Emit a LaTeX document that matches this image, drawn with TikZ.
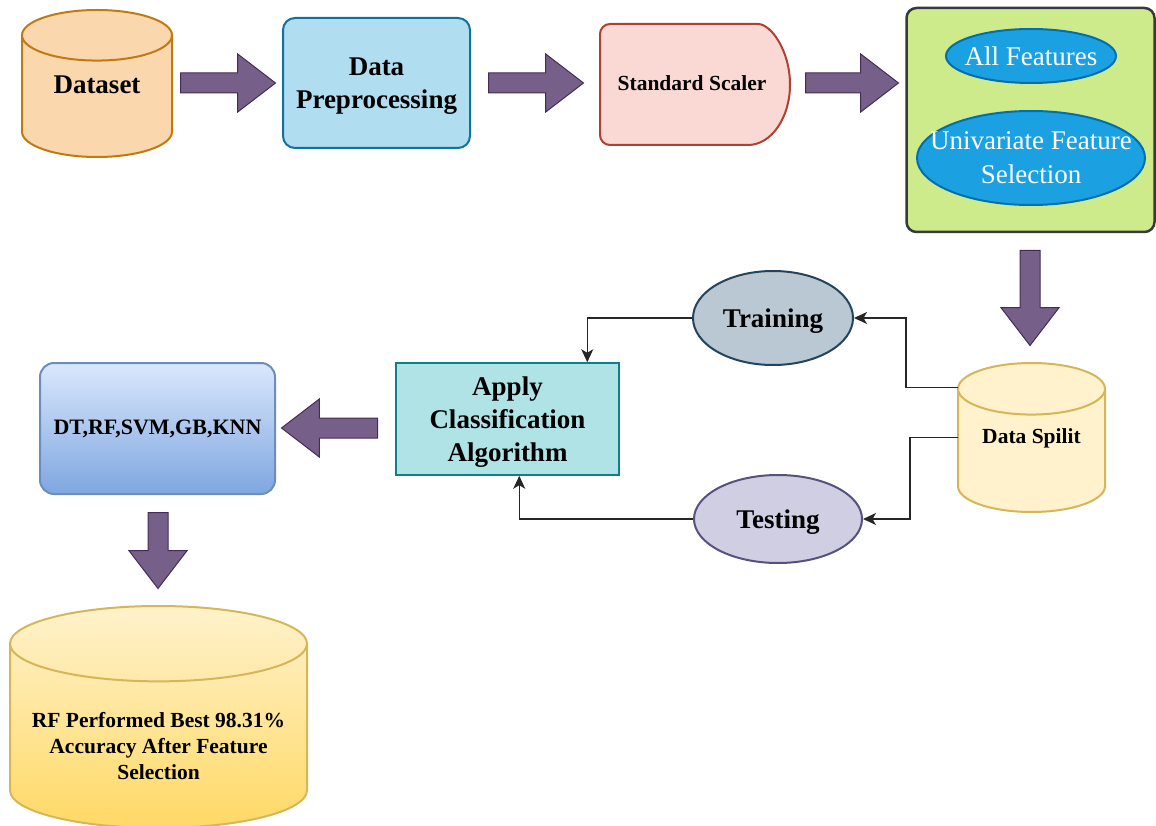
\documentclass[tikz,border=0pt]{standalone}
\usepackage{fontspec}
\setmainfont{Liberation Serif}
\usetikzlibrary{calc}
\usetikzlibrary{shapes.geometric,shapes.arrows,arrows.meta}

\definecolor{arrowfill}{HTML}{76608A}
\definecolor{arrowline}{HTML}{432D57}
\definecolor{datasetfill}{HTML}{FAD7AC}
\definecolor{datasetline}{HTML}{C07A14}
\definecolor{prepfill}{HTML}{B1DDF0}
\definecolor{prepline}{HTML}{10739E}
\definecolor{scalerfill}{HTML}{FAD9D5}
\definecolor{scalerline}{HTML}{AE4132}
\definecolor{featboxfill}{HTML}{CDEB8B}
\definecolor{featboxline}{HTML}{36393D}
\definecolor{featfill}{HTML}{1BA1E2}
\definecolor{featline}{HTML}{006EAF}
\definecolor{trainfill}{HTML}{BAC8D3}
\definecolor{trainline}{HTML}{23445D}
\definecolor{testfill}{HTML}{D0CEE2}
\definecolor{testline}{HTML}{56517E}
\definecolor{splitfill}{HTML}{FFF2CC}
\definecolor{splitline}{HTML}{D6B656}
\definecolor{applyfill}{HTML}{B0E3E6}
\definecolor{applyline}{HTML}{0E8088}
\definecolor{algotop}{HTML}{DAE8FC}
\definecolor{algobot}{HTML}{7EA6E0}
\definecolor{algoline}{HTML}{6C8EBF}
\definecolor{resultbot}{HTML}{FFD966}
\definecolor{linkcol}{HTML}{262626}

\newcommand{\flatline}[1]{\makebox[0pt]{#1}}

\tikzset{
    bigfont/.style={font=\fontsize{27}{33}\selectfont\bfseries},
    midfont/.style={font=\fontsize{21.5}{26}\selectfont\bfseries},
    bigarrow/.style={single arrow, draw=arrowline, fill=arrowfill, line width=1pt,
        minimum height=#1, inner sep=9.5pt, anchor=tail,
        single arrow head extend=19pt, single arrow tip angle=75,
        single arrow head indent=0pt},
    drum/.style={cylinder, shape border rotate=90, aspect=#1, line width=2pt,
        anchor=shape center},
    link/.style={draw=linkcol, line width=1.3pt,
        -{Stealth[length=13pt,width=12pt,inset=3.5pt]}}
}

\begin{document}
\begin{tikzpicture}[x=1pt,y=-1pt]
\useasboundingbox (0,0) rectangle (1156,826);

% top row
\node[drum=0.54, draw=datasetline, fill=datasetfill, minimum width=150pt,
    minimum height=147pt, bigfont] (dataset) at (97,83.5)
    {\raisebox{7pt}[0pt][0pt]{Dataset}};
\node[bigarrow=95pt] (arrA) at (180,83) {};
\node[draw=prepline, fill=prepfill, line width=2pt, rounded corners=12pt,
    minimum width=187pt, minimum height=130pt, align=center, text depth=0pt, bigfont]
    (prep) at (376.5,83) {Data\\Preprocessing};
\node[bigarrow=95pt] (arrB) at (488,83) {};
\draw[draw=scalerline, fill=scalerfill, line width=2pt, rounded corners=10pt]
    (748,145) -- (600,145) -- (600,24) -- (748,24) [sharp corners]
    arc[start angle=-90, end angle=90, x radius=42, y radius=60.5] -- cycle;
\node[minimum width=190pt, minimum height=121pt, font=\fontsize{21.5}{26}\selectfont\bfseries]
    (scaler) at (692,83) {Standard Scaler};
\node[bigarrow=93pt] (arrC) at (805,83) {};

% feature selection
\node[draw=featboxline, fill=featboxfill, line width=2.5pt, rounded corners=10pt,
    minimum width=248pt, minimum height=224pt] (featbox) at (1030.5,120) {};
\node[ellipse, draw=featline, fill=featfill, line width=2pt, inner sep=0pt,
    minimum width=170pt, minimum height=54pt, text=white,
    font=\fontsize{27}{33}\selectfont] (allfeat) at (1031,56) {\flatline{All Features}};
\node[ellipse, draw=featline, fill=featfill, line width=2pt, inner sep=0pt,
    minimum width=228pt, minimum height=94pt, text=white, align=center,
    font=\fontsize{27}{34}\selectfont] (univar) at (1031,158)
    {\flatline{Univariate Feature}\\\flatline{Selection}};
\node[bigarrow=95pt, shape border rotate=270] (arrD) at (1030,250) {};

% split
\node[drum=0.49, draw=splitline, fill=splitfill, minimum width=147pt,
    minimum height=149pt, midfont] (split) at (1031.5,437.5)
    {\raisebox{11pt}[0pt][0pt]{Data Spilit}};
\node[ellipse, draw=trainline, fill=trainfill, line width=2pt, text depth=0pt,
    minimum width=160pt, minimum height=94pt, bigfont] (training) at (773,318) {Training};
\node[ellipse, draw=testline, fill=testfill, line width=2pt, text depth=0pt,
    minimum width=168pt, minimum height=88pt, bigfont] (testing) at (778,519) {Testing};
\node[draw=applyline, fill=applyfill, line width=1.5pt, minimum width=223pt,
    minimum height=112pt, align=center, text depth=0pt, bigfont] (apply) at (507.5,419)
    {Apply\\Classification\\Algorithm};

\draw[link] ($(split.shape center)+(-73.5,-50)$) -- ++(-52,0) |- (training.east);
\draw[link] ($(split.shape center)+(-73.5,0)$) -- ++(-48,0) |- (testing.east);
\draw[link] (training.west) -| ($(apply.north west)+(192,0)$);
\draw[link] (testing.west) -| ($(apply.south west)+(124,0)$);

% results
\node[bigarrow=96pt, shape border rotate=180] (arrE) at (378,428) {};
\node[draw=algoline, top color=algotop, bottom color=algobot, line width=2pt,
    rounded corners=14pt, minimum width=235pt, minimum height=131pt,
    font=\fontsize{22}{26}\selectfont\bfseries] (algos) at (157.5,428.5) {DT,RF,SVM,GB,KNN};
\node[bigarrow=76pt, shape border rotate=270] (arrF) at (158,512) {};
\node[drum=0.29, draw=splitline, top color=splitfill, bottom color=resultbot,
    minimum width=297pt, minimum height=222pt, midfont] (result) at (158.5,717)
    {\raisebox{-13.4pt}[0pt][0pt]{\begin{tabular}{@{}c@{}}RF Performed Best 98.31\%\\
    Accuracy After Feature\\Selection\end{tabular}}};

\end{tikzpicture}
\end{document}
